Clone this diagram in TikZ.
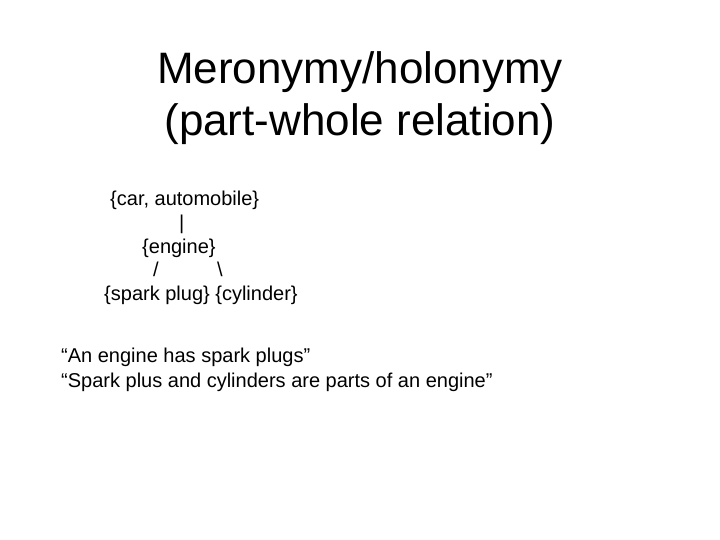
\documentclass[tikz,border=0pt]{standalone}
\usepackage{fontspec}
\setmainfont{Liberation Sans}
\begin{document}
\begin{tikzpicture}[x=1pt,y=-1pt,
  titletext/.style={font=\fontsize{44}{52.8}\selectfont, inner sep=0pt, anchor=base},
  bodytext/.style={font=\fontsize{20}{24}\selectfont, inner sep=0pt, anchor=base west}]
\useasboundingbox (0,0) rectangle (720,540);
\fill[white] (0,0) rectangle (720,540);
\node[titletext] (t1) at (360,84) {Meronymy/holonymy};
\node[titletext] (t2) at (360,136) {(part-whole relation)};
\node[bodytext] (car) at (110,206) {\{car, automobile\}};
\node[bodytext] (bar) at (179,229.5) {|};
\node[bodytext] (engine) at (142,253) {\{engine\}};
\node[bodytext] (sl) at (153,276.5) {/};
\node[bodytext] (bs) at (217,276.5) {\textbackslash};
\node[bodytext] (parts) at (104,300) {\{spark plug\} \{cylinder\}};
\node[bodytext] (q1) at (61,362) {“An engine has spark plugs”};
\node[bodytext] (q2) at (61,387) {“Spark plus and cylinders are parts of an engine”};
\end{tikzpicture}
\end{document}
